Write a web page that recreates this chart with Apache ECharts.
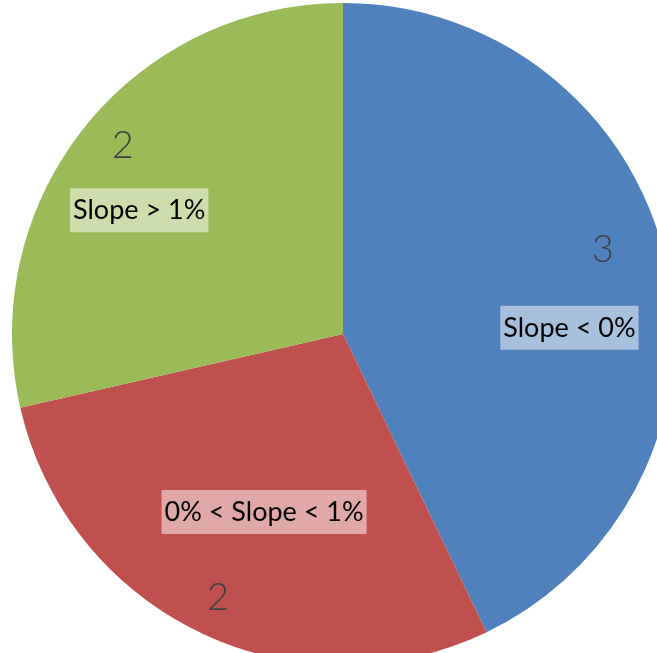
<!DOCTYPE html>
<html>
<head>
<meta charset="utf-8">
<script src="https://cdn.jsdelivr.net/npm/echarts@6/dist/echarts.min.js"></script>
<style>html,body{margin:0;padding:0;background:#fff}#c{width:657px;height:653px}</style>
</head>
<body>
<div id="c"></div>
<script>
var categories = ['Slope < 0%', '0% < Slope < 1%', 'Slope > 1%'];
var values = [3, 2, 2];
var colors = ['#4F81BD', '#C0504D', '#9BBB59'];

var nameOffsets = [[11, 43], [17, -21], [-31, 14]];
var valueOffsets = [[-21, -20], [0, 4], [5, -9]];

var center = [343, 334];
var R = 331;

function items(withStyle, offsets) {
  return categories.map(function (c, i) {
    var it = { name: c, value: values[i] };
    if (withStyle) it.itemStyle = { color: colors[i] };
    if (offsets) it.label = { offset: offsets[i] };
    return it;
  });
}

var chart = echarts.init(document.getElementById('c'), null, { renderer: 'canvas' });
chart.setOption({
  animation: false,
  series: [
    {
      type: 'pie', center: center, radius: [0, R], startAngle: 90, clockwise: true,
      silent: true, label: { show: false }, labelLine: { show: false },
      itemStyle: { borderWidth: 0 },
      data: items(true)
    },
    {
      type: 'pie', center: center, radius: [0, 436], startAngle: 90, clockwise: true,
      silent: true, itemStyle: { color: 'transparent', borderWidth: 0 },
      labelLine: { show: false },
      label: {
        show: true, position: 'inside', formatter: '{b}',
        fontFamily: 'Lato', fontSize: 27, lineHeight: 32, color: '#000',
        backgroundColor: 'rgba(255,255,255,0.5)', padding: [7, 3, 5, 3]
      },
      data: items(false, nameOffsets)
    },
    {
      type: 'pie', center: center, radius: [0, 570], startAngle: 90, clockwise: true,
      silent: true, itemStyle: { color: 'transparent', borderWidth: 0 },
      labelLine: { show: false },
      label: {
        show: true, position: 'inside', formatter: '{c}',
        fontFamily: 'Lato', fontWeight: 300, fontSize: 38, color: '#404040'
      },
      data: items(false, valueOffsets)
    }
  ]
});
</script>
</body>
</html>
